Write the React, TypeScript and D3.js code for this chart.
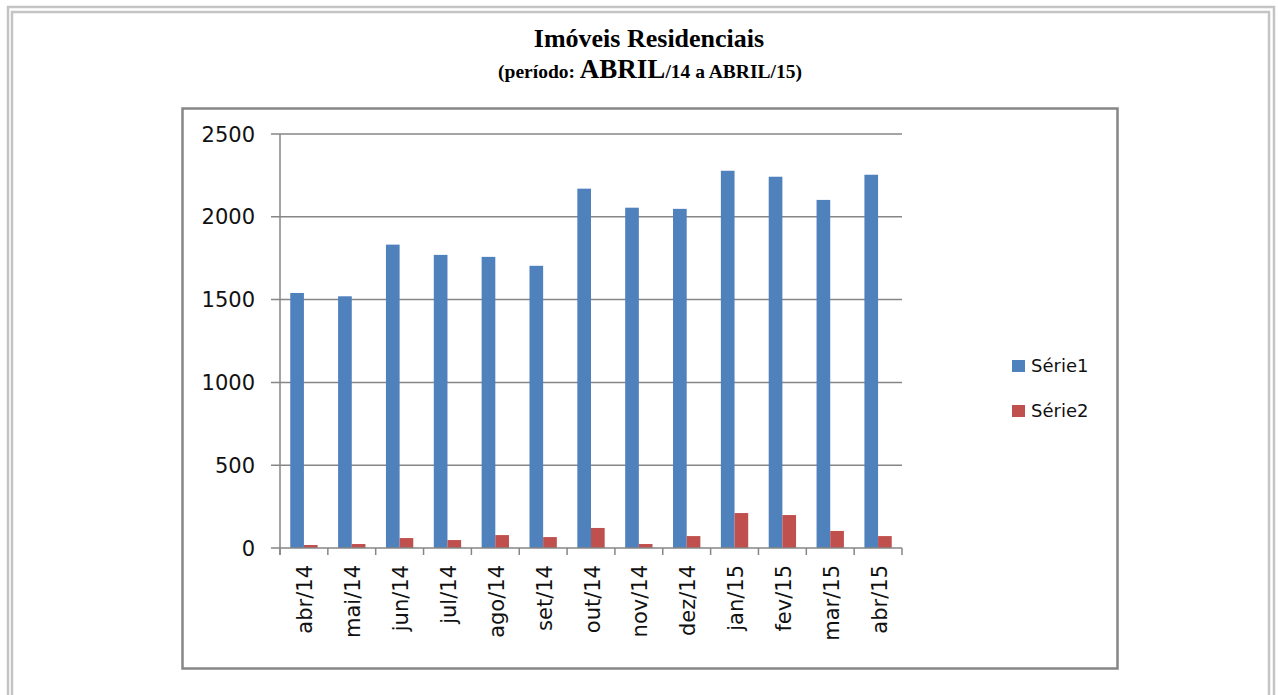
import * as d3 from "d3";

const months = ["abr/14", "mai/14", "jun/14", "jul/14", "ago/14", "set/14", "out/14", "nov/14", "dez/14", "jan/15", "fev/15", "mar/15", "abr/15"];
const serie1 = [1540, 1520, 1832, 1770, 1758, 1704, 2170, 2055, 2048, 2278, 2242, 2102, 2254];
const serie2 = [18, 24, 60, 48, 78, 66, 121, 24, 72, 211, 199, 103, 72];
const seriesNames = ["Série1", "Série2"];
const seriesColors = ["#4F81BD", "#C0504D"];
const yTicks = [0, 500, 1000, 1500, 2000, 2500];

const W = 1278;
const H = 695;
const plot = { left: 280, right: 902, top: 134, bottom: 548 };
const axisColor = "#868686";
const font = "'DejaVu Sans', sans-serif";

export default function App() {
  const x = d3.scaleBand().domain(months).range([plot.left, plot.right]).padding(0);
  const inner = d3
    .scaleBand()
    .domain(seriesNames)
    .range([0, x.bandwidth()])
    .paddingInner(0)
    .paddingOuter(0.75);
  const y = d3.scaleLinear().domain([0, 2500]).range([plot.bottom, plot.top]);
  const values = [serie1, serie2];

  const boundaries = months.map((m) => x(m)!).concat([plot.right]);

  return (
    <svg
      width={W}
      height={H}
      style={{ position: "absolute", left: 0, top: 0, background: "#fff" }}
    >
      {/* page frame */}
      <path d={`M8,${H} V7 H${W - 4} V${H}`} fill="none" stroke="#c4c4c4" strokeWidth={2.5} />
      <path d={`M12,${H} V12 H${W - 9} V${H}`} fill="none" stroke="#c4c4c4" strokeWidth={2.5} />

      {/* title */}
      <text
        x={649}
        y={47}
        textAnchor="middle"
        fontFamily="'Liberation Serif', serif"
        fontWeight="bold"
        fontSize={26}
      >
        Imóveis Residenciais
      </text>
      <text
        x={650}
        y={78}
        textAnchor="middle"
        fontFamily="'Liberation Serif', serif"
        fontWeight="bold"
        fontSize={19.5}
      >
        (período: <tspan fontSize={27}>ABRIL</tspan>/14 a ABRIL/15)
      </text>

      {/* chart frame */}
      <rect x={182.5} y={108.5} width={935} height={560} fill="#fff" stroke={axisColor} strokeWidth={2.5} />

      {/* gridlines + y ticks */}
      {yTicks.map((t) => (
        <g key={t}>
          <line
            x1={plot.left - 9}
            x2={t === 0 ? plot.left : plot.right}
            y1={y(t)}
            y2={y(t)}
            stroke={axisColor}
            strokeWidth={1.5}
          />
          <text
            x={255}
            y={y(t)}
            dy="0.36em"
            textAnchor="end"
            fontFamily={font}
            fontSize={21}
            fill="#111"
          >
            {t}
          </text>
        </g>
      ))}

      {/* bars */}
      {values.map((vals, si) =>
        months.map((m, i) => (
          <rect
            key={`${si}-${i}`}
            x={x(m)! + inner(seriesNames[si])!}
            y={y(vals[i])}
            width={inner.bandwidth()}
            height={y(0) - y(vals[i])}
            fill={seriesColors[si]}
          />
        ))
      )}

      {/* axes */}
      <line x1={plot.left} x2={plot.left} y1={plot.top} y2={plot.bottom + 7} stroke={axisColor} strokeWidth={1.5} />
      <line x1={plot.left} x2={plot.right} y1={plot.bottom} y2={plot.bottom} stroke={axisColor} strokeWidth={1.5} />
      {boundaries.map((bx, i) => (
        <line key={i} x1={bx} x2={bx} y1={plot.bottom} y2={plot.bottom + 7} stroke={axisColor} strokeWidth={1.5} />
      ))}

      {/* x labels */}
      {months.map((m) => {
        const cx = x(m)! + x.bandwidth() / 2;
        return (
          <text
            key={m}
            transform={`translate(${cx + 1},565) rotate(-90)`}
            textAnchor="end"
            dy="0.36em"
            fontFamily={font}
            fontSize={21}
            fill="#111"
          >
            {m}
          </text>
        );
      })}

      {/* legend */}
      {seriesNames.map((s, i) => (
        <g key={s} transform={`translate(1012,${366 + i * 45})`}>
          <rect x={0} y={-6} width={13} height={12} fill={seriesColors[i]} />
          <text x={19} y={0} dy="0.36em" fontFamily={font} fontSize={18} fill="#111">
            {s}
          </text>
        </g>
      ))}
    </svg>
  );
}
